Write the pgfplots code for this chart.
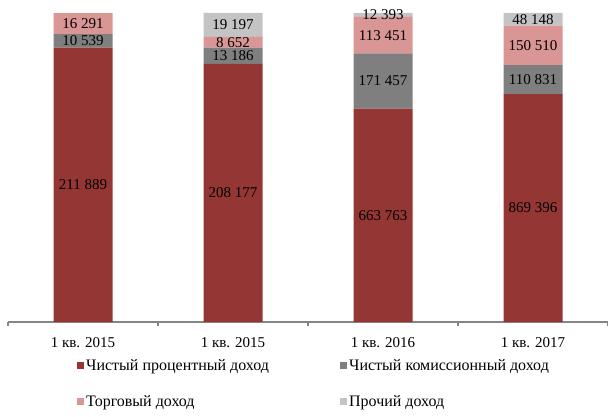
\documentclass[border=0pt]{standalone}
\usepackage{pgfplots}
\usepackage{pgfplotstable}
\pgfplotsset{compat=1.18}
\usepackage{fontspec}
\setmainfont{Liberation Serif}
\definecolor{cRed}{HTML}{943634}
\definecolor{cGray}{HTML}{7F7F7F}
\definecolor{cPink}{HTML}{D99694}
\definecolor{cLight}{HTML}{C4C4C4}
\definecolor{axisgray}{HTML}{868686}
\newcommand\myfont{\fontsize{15bp}{18bp}\selectfont}
\newcommand\legfont{\fontsize{16bp}{19bp}\selectfont}
\pgfplotstableread{
x int com trade other
0 211889 10539 16291 0
1 208177 13186 8652 19197
2 663763 171457 113451 12393
3 869396 110831 150510 48148
}\data
\begin{document}
\begin{tikzpicture}
\begin{axis}[name=main,
  scale only axis, width=600bp, height=309bp,
  xmin=-0.5, xmax=3.5, ymin=0, ymax=100,
  ybar stacked, bar width=59bp,
  axis y line=none, axis x line*=bottom,
  x axis line style={draw=axisgray, line width=1.2bp},
  xtick={-0.5,0.5,1.5,2.5,3.5},
  x tick label as interval,
  xticklabels={1 кв. 2015,1 кв. 2015,1 кв. 2016,1 кв. 2017},
  tick align=outside, major tick length=4bp,
  x tick style={draw=axisgray, line width=1.2bp},
  tick label style={font=\myfont},
  xticklabel style={yshift=-8bp},
  legend image code/.code={\draw[#1,/tikz/.cd,draw=none] (0bp,-3.5bp) rectangle (7bp,3.5bp);},
  legend style={at={(axis description cs:0,0)}, anchor=north west,
    xshift=66bp, yshift=-33bp, draw=none, fill=none, font=\legfont,
    legend columns=2, row sep=20bp, legend cell align=left},
]
\addplot[fill=cRed, draw=none] table[x=x, y expr={100*\thisrow{int}/(\thisrow{int}+\thisrow{com}+\thisrow{trade}+\thisrow{other})}] {\data};
\addplot[fill=cGray, draw=none] table[x=x, y expr={100*\thisrow{com}/(\thisrow{int}+\thisrow{com}+\thisrow{trade}+\thisrow{other})}] {\data};
\addplot[fill=cPink, draw=none] table[x=x, y expr={100*\thisrow{trade}/(\thisrow{int}+\thisrow{com}+\thisrow{trade}+\thisrow{other})}] {\data};
\addplot[fill=cLight, draw=none] table[x=x, y expr={100*\thisrow{other}/(\thisrow{int}+\thisrow{com}+\thisrow{trade}+\thisrow{other})}] {\data};
\addlegendentry{\makebox[252bp][l]{Чистый процентный доход}}
\addlegendentry{Чистый комиссионный доход}
\addlegendentry{\makebox[252bp][l]{Торговый доход}}
\addlegendentry{Прочий доход}
\end{axis}
\begin{axis}[
  at={(main.south west)}, anchor=south west,
  scale only axis, width=600bp, height=309bp,
  xmin=-0.5, xmax=3.5, ymin=0, ymax=100,
  axis lines=none, clip=false,
  point meta=explicit,
  /pgf/number format/.cd, fixed, precision=0, 1000 sep={\ }, assume math mode=true, /pgfplots/.cd,
  nodes near coords={\pgfmathfloatifflags{\pgfplotspointmeta}{0}{}{\pgfmathprintnumber{\pgfplotspointmeta}}},
  every node near coord/.append style={anchor=center, font=\myfont, text=black, inner sep=0pt},
]
\addplot[only marks, mark=none] table[x=x, meta=int, y expr={100*(0.5*\thisrow{int})/(\thisrow{int}+\thisrow{com}+\thisrow{trade}+\thisrow{other})}] {\data};
\addplot[only marks, mark=none] table[x=x, meta=com, y expr={100*(\thisrow{int}+0.5*\thisrow{com})/(\thisrow{int}+\thisrow{com}+\thisrow{trade}+\thisrow{other})}] {\data};
\addplot[only marks, mark=none] table[x=x, meta=trade, y expr={100*(\thisrow{int}+\thisrow{com}+0.5*\thisrow{trade})/(\thisrow{int}+\thisrow{com}+\thisrow{trade}+\thisrow{other})}] {\data};
\addplot[only marks, mark=none] table[x=x, meta=other, y expr={100*(\thisrow{int}+\thisrow{com}+\thisrow{trade}+0.5*\thisrow{other})/(\thisrow{int}+\thisrow{com}+\thisrow{trade}+\thisrow{other})}] {\data};
\end{axis}
\pgfresetboundingbox
\path ([shift={(-8bp,-95bp)}]main.south west) rectangle ([shift={(0bp,13bp)}]main.north east);
\end{tikzpicture}
\end{document}
